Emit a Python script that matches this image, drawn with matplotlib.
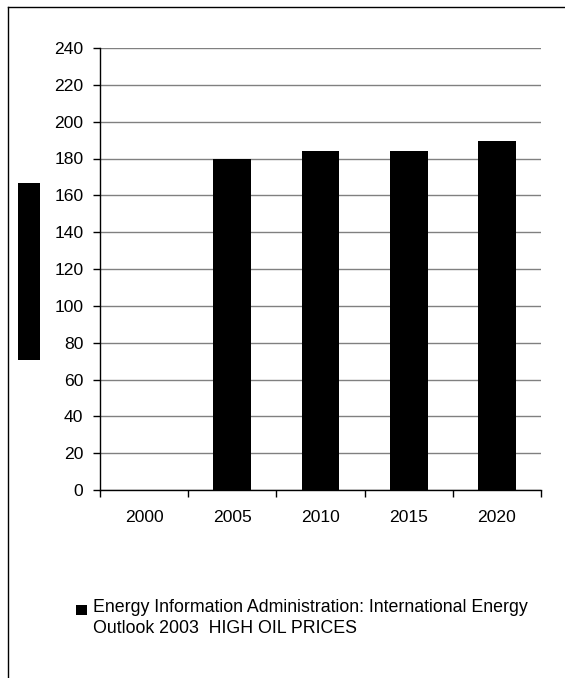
import numpy as np
import matplotlib
matplotlib.use("Agg")
import matplotlib.pyplot as plt
from matplotlib.patches import Rectangle
from matplotlib.lines import Line2D

plt.rcParams['font.family'] = ['Liberation Sans', 'DejaVu Sans']

years = ['2000', '2005', '2010', '2015', '2020']
values = [0, 180, 184, 184, 189.5]
series_name = "Energy Information Administration: International Energy\nOutlook 2003  HIGH OIL PRICES"

W, H = 565, 678
fig = plt.figure(figsize=(W/100, H/100), dpi=100)
ax = fig.add_axes([100/W, 1-490/H, 441/W, 442/H])

x = np.arange(len(years))
bars = ax.bar(x, values, width=0.43, color='black', linewidth=0, zorder=3)

ax.set_xlim(-0.5, len(years)-0.5)
ax.set_ylim(0, 240)
ax.set_yticks(np.arange(0, 241, 20))
ax.yaxis.grid(True, color='#808080', linewidth=1)
ax.set_axisbelow(True)

# ticks between categories, labels at centers
ax.set_xticks(np.arange(-0.5, len(years), 1))
ax.set_xticklabels([])
ax.set_xticks(x, minor=True)
ax.set_xticklabels(years, minor=True)
ax.tick_params(axis='x', which='major', direction='out', length=5, width=1)
ax.tick_params(axis='x', which='minor', length=0, pad=14.5, labelsize=12.6)
ax.tick_params(axis='y', direction='out', length=5, width=1, pad=7, labelsize=12.6)

ax.spines['right'].set_visible(False)
ax.spines['top'].set_visible(False)
for s in ('left', 'bottom'):
    ax.spines[s].set_color('black')
    ax.spines[s].set_linewidth(1)

# hidden axis title box on the left
fig.patches.append(Rectangle((18/W, 1-360/H), 22/W, 177/H, transform=fig.transFigure,
                             facecolor='black', edgecolor='none'))

# outer chart border (left and top visible)
fig.add_artist(Line2D([8/W, 8/W], [0, 1-7/H], transform=fig.transFigure, color='black', lw=1))
fig.add_artist(Line2D([8/W, 1], [1-7/H, 1-7/H], transform=fig.transFigure, color='black', lw=1))

# legend: square key aligned with the first text line
fig.patches.append(Rectangle((76/W, 1-615/H), 11/W, 10/H, transform=fig.transFigure,
                             facecolor=bars.patches[1].get_facecolor(), edgecolor='none'))
fig.text(93/W, 1-599/H, series_name, ha='left', va='top', fontsize=12.8,
         linespacing=1.3)

fig.savefig('out.png', dpi=100)
